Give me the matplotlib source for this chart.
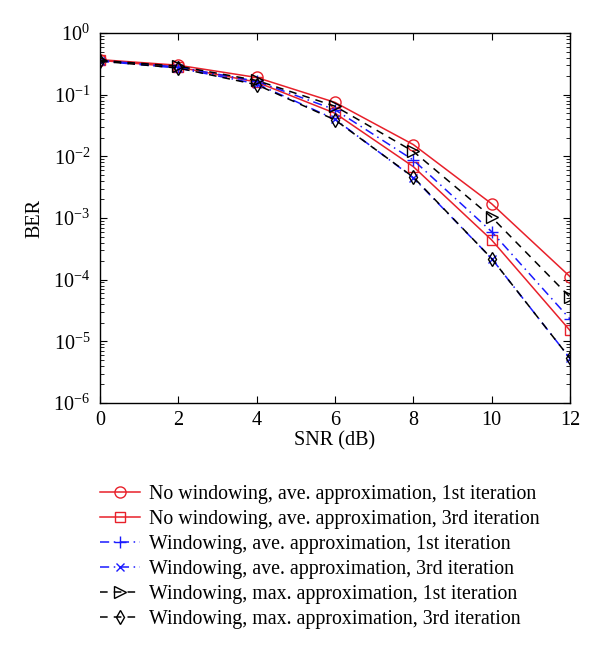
import matplotlib
matplotlib.use("Agg")
import matplotlib.pyplot as plt
from matplotlib.ticker import LogLocator, NullFormatter

plt.rcParams['font.family'] = ['Liberation Serif', 'DejaVu Serif']
plt.rcParams['mathtext.fontset'] = 'stix'

snr = [0, 2, 4, 6, 8, 10, 12]
nw_ave_1 = [0.37, 0.30, 0.19, 0.075, 0.0155, 1.7e-3, 1.12e-4]
nw_ave_3 = [0.36, 0.28, 0.16, 0.050, 0.0068, 4.4e-4, 1.5e-5]
w_ave_1 = [0.36, 0.28, 0.165, 0.057, 0.0087, 6.0e-4, 2.3e-5]
w_ave_3 = [0.35, 0.27, 0.15, 0.040, 0.0045, 2.2e-4, 5.3e-6]
w_max_1 = [0.36, 0.29, 0.17, 0.065, 0.012, 1.03e-3, 5.2e-5]
w_max_3 = [0.35, 0.27, 0.145, 0.039, 0.0046, 2.2e-4, 5.3e-6]

labels = [
    "No windowing, ave. approximation, 1st iteration",
    "No windowing, ave. approximation, 3rd iteration",
    "Windowing, ave. approximation, 1st iteration",
    "Windowing, ave. approximation, 3rd iteration",
    "Windowing, max. approximation, 1st iteration",
    "Windowing, max. approximation, 3rd iteration",
]

fig = plt.figure(figsize=(6, 6.48), dpi=100)
ax = fig.add_axes([100/600, 1-403/648, 470/600, 370/648])

red = '#e8202a'
blue = '#1a1aff'
styles = [
    (nw_ave_1, red, '-', 'o', 8),
    (nw_ave_3, red, '-', 's', 7),
    (w_ave_1, blue, (0, (6, 3, 1, 3)), '+', 9),
    (w_ave_3, blue, (0, (6, 3, 1, 3)), 'x', 6),
    (w_max_1, 'black', (0, (5, 4)), '>', 8),
    (w_max_3, 'black', (0, (5, 4)), 'd', 7),
]
handles = []
for (y, c, ls, m, ms), lab in zip(styles, labels):
    h, = ax.plot(snr, y, color=c, linestyle=ls, marker=m, markersize=ms,
                 markerfacecolor='none', markeredgecolor=c, linewidth=1.1,
                 markeredgewidth=1.0, label=lab)
    handles.append(h)

ax.set_yscale('log')
ax.set_xlim(0, 12)
ax.set_ylim(1e-6, 1)
ax.set_xticks(snr)
ax.yaxis.set_major_locator(LogLocator(base=10, numticks=10))
ax.yaxis.set_minor_locator(LogLocator(base=10, subs=range(2, 10), numticks=20))
ax.yaxis.set_minor_formatter(NullFormatter())
ax.tick_params(which='both', direction='in', top=True, right=True, labelsize=14.5)
ax.tick_params(axis='y', which='major', length=5, pad=7)
ax.tick_params(axis='x', which='major', length=5, pad=6)
ax.tick_params(which='minor', length=3)
ax.set_xlabel('SNR (dB)', fontsize=14.5, labelpad=1)
ax.set_ylabel('BER', fontsize=14.5, labelpad=6)
for s in ax.spines.values():
    s.set_linewidth(1.0)

fig.legend(handles=handles, labels=labels, loc='upper left',
           bbox_to_anchor=(82/600, 1-467/648), frameon=False, fontsize=14.3,
           handlelength=2.0, handletextpad=0.45, labelspacing=0.3)

fig.savefig('out.png', dpi=100)
